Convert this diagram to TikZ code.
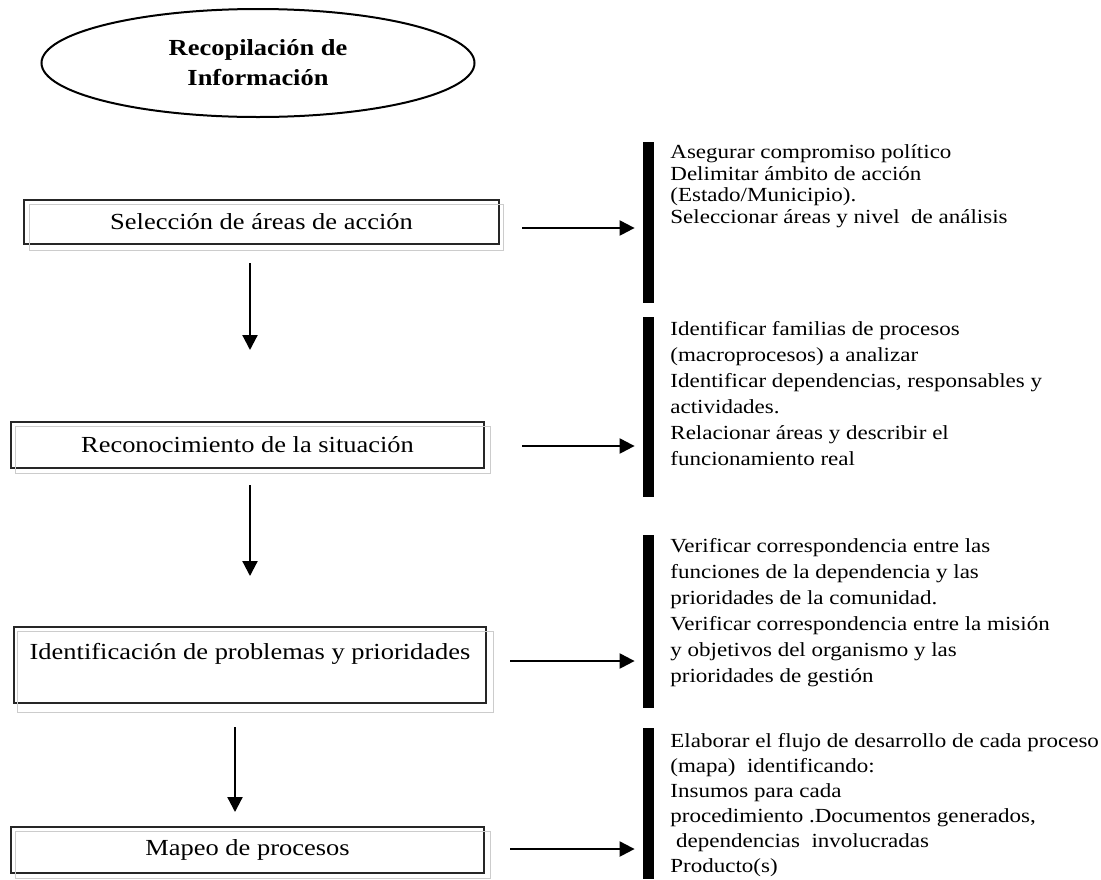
\documentclass[tikz,border=0pt]{standalone}
\usepackage{fontspec}
\setmainfont{Liberation Serif}[FakeStretch=1.15]
\usetikzlibrary{shapes.geometric,arrows.meta}

\tikzset{
    caja/.style={draw=black!85, line width=0.6pt, inner sep=0pt, font=\fontsize{11.5}{14}\selectfont},
    sombra/.style={draw=black!20, line width=0.6pt},
    barra/.style={fill=black, inner sep=0pt, minimum width=5.5pt},
    lista/.style={anchor=north west, align=left, inner sep=0pt, font=\fontsize{10}{13}\selectfont},
    flecha/.style={-{Triangle[length=7.5pt,width=7.5pt]}, line width=1.1pt},
}

\begin{document}
\begin{tikzpicture}[x=0.5pt, y=-0.5pt]
            \useasboundingbox (0,0) rectangle (1101,879);

            \node[ellipse, draw, line width=1pt, minimum width=216.5pt, minimum height=54pt, align=center,
                  font=\fontsize{11.5}{15}\selectfont\bfseries] (recop) at (258,63) {Recopilación de\\Información};

            % cajas de la izquierda
            \node[caja, minimum width=237.5pt, minimum height=22pt] (selec) at (261.5,222) {Selección de áreas de acción};
            \node[caja, minimum width=236.5pt, minimum height=23pt] (recon) at (247.5,445) {Reconocimiento de la situación};
            \node[caja, minimum width=236pt, minimum height=38pt, align=center] (ident) at (250,665) {Identificación de problemas y prioridades\\~};
            \node[caja, minimum width=236.5pt, minimum height=23pt] (mapeo) at (247.5,850) {Mapeo de procesos};

            \draw[sombra] ([shift={(6,5)}]selec.north west) rectangle ([shift={(4,6)}]selec.south east);
            \draw[sombra] ([shift={(5,5)}]recon.north west) rectangle ([shift={(6,5)}]recon.south east);
            \draw[sombra] ([shift={(4,5)}]ident.north west) rectangle ([shift={(7,9)}]ident.south east);
            \draw[sombra] ([shift={(5,5)}]mapeo.north west) rectangle ([shift={(6,5)}]mapeo.south east);

            % barras
            \node[barra, minimum height=80.5pt] (bar1) at (648.5,222.5) {};
            \node[barra, minimum height=90pt] (bar2) at (648.5,407) {};
            \node[barra, minimum height=86.5pt] (bar3) at (648.5,621.5) {};
            \node[barra, minimum height=75.5pt] (bar4) at (648.5,803.5) {};

            % textos de la derecha
            \node[lista, font=\fontsize{10}{10.85}\selectfont] (txt1) at (670,144) {Asegurar compromiso político\\
                Delimitar ámbito de acción\\
                (Estado/Municipio).\\
                Seleccionar áreas y nivel~ de análisis};
            \node[lista] (txt2) at (670,321) {Identificar familias de procesos\\
                (macroprocesos) a analizar\\
                Identificar dependencias, responsables y\\
                actividades.\\
                Relacionar áreas y describir el\\
                funcionamiento real};
            \node[lista] (txt3) at (670,538) {Verificar correspondencia entre las\\
                funciones de la dependencia y las\\
                prioridades de la comunidad.\\
                Verificar correspondencia entre la misión\\
                y objetivos del organismo y las\\
                prioridades de gestión};
            \node[lista, font=\fontsize{10}{12.5}\selectfont] (txt4) at (670,733) {Elaborar el flujo de desarrollo de cada proceso\\
                (mapa)~ identificando:\\
                Insumos para cada\\
                procedimiento .Documentos generados,\\
                ~dependencias~ involucradas\\
                Producto(s)};

            % flechas horizontales
            \coordinate (h1) at (522,228);
            \coordinate (h2) at (522,446);
            \coordinate (h3) at (510,661);
            \coordinate (h4) at (510,849);
            \draw[flecha, shorten >=4pt] (h1) -- (bar1.west |- h1);
            \draw[flecha, shorten >=4pt] (h2) -- (bar2.west |- h2);
            \draw[flecha, shorten >=4pt] (h3) -- (bar3.west |- h3);
            \draw[flecha, shorten >=4pt] (h4) -- (bar4.west |- h4);

            % flechas verticales
            \coordinate (v1a) at (250,263);
            \coordinate (v1b) at (250,350);
            \coordinate (v2a) at (250,485);
            \coordinate (v2b) at (250,576);
            \coordinate (v3a) at (235,727);
            \coordinate (v3b) at (235,812);
            \draw[flecha] (v1a) -- (v1b);
            \draw[flecha] (v2a) -- (v2b);
            \draw[flecha] (v3a) -- (v3b);
\end{tikzpicture}
\end{document}
